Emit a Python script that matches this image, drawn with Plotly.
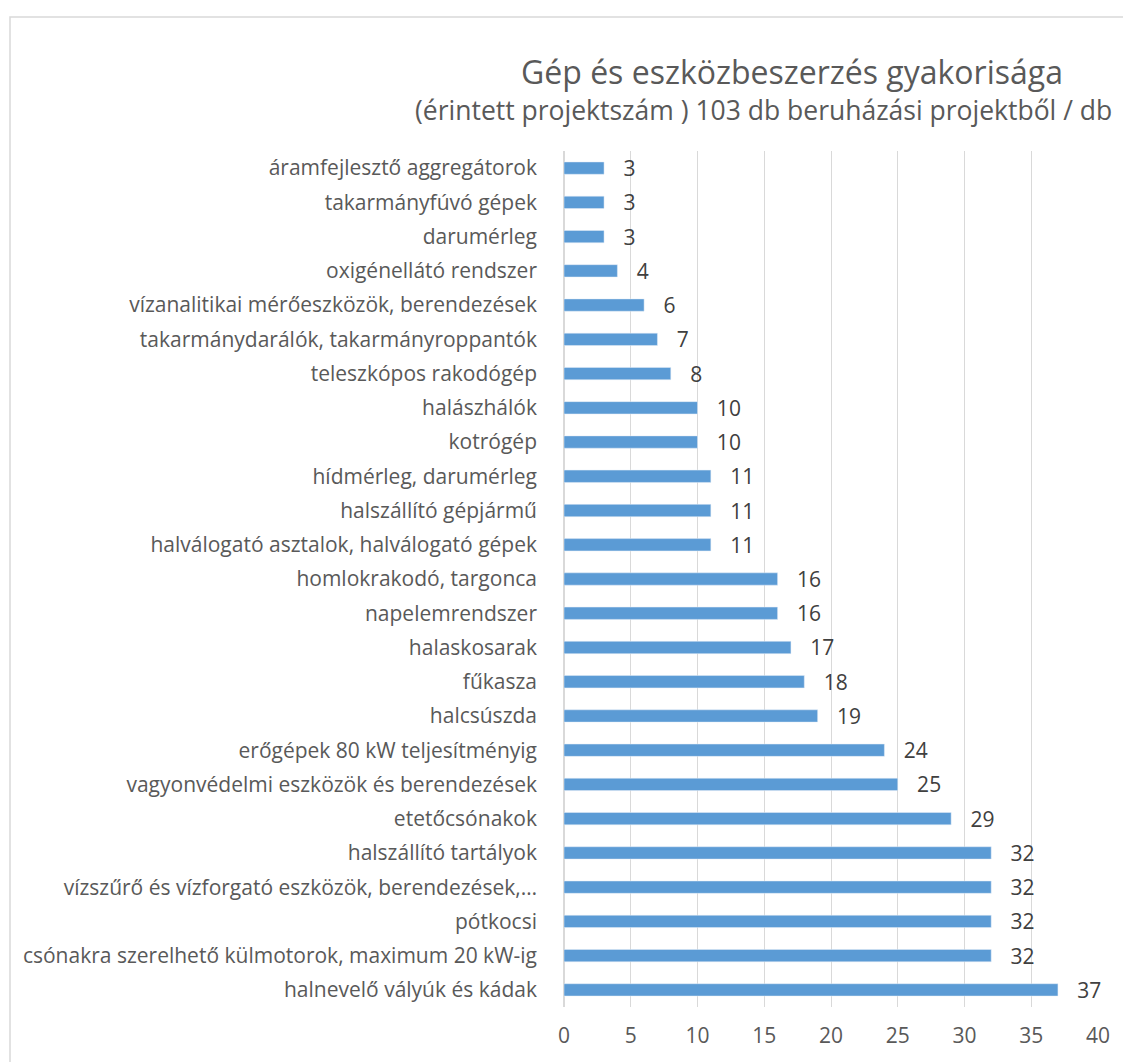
import plotly.graph_objects as go

categories = [
    "áramfejlesztő aggregátorok",
    "takarmányfúvó gépek",
    "darumérleg",
    "oxigénellátó rendszer",
    "vízanalitikai mérőeszközök, berendezések",
    "takarmánydarálók, takarmányroppantók",
    "teleszkópos rakodógép",
    "halászhálók",
    "kotrógép",
    "hídmérleg, darumérleg",
    "halszállító gépjármű",
    "halválogató asztalok, halválogató gépek",
    "homlokrakodó, targonca",
    "napelemrendszer",
    "halaskosarak",
    "fűkasza",
    "halcsúszda",
    "erőgépek 80 kW teljesítményig",
    "vagyonvédelmi eszközök és berendezések",
    "etetőcsónakok",
    "halszállító tartályok",
    "vízszűrő és vízforgató eszközök, berendezések,…",
    "pótkocsi",
    "csónakra szerelhető külmotorok, maximum 20 kW-ig",
    "halnevelő vályúk és kádak",
]
counts = [3, 3, 3, 4, 6, 7, 8, 10, 10, 11, 11, 11, 16, 16, 17, 18, 19,
          24, 25, 29, 32, 32, 32, 32, 37]

title_text = "Gép és eszközbeszerzés gyakorisága"
subtitle_text = "(érintett projektszám ) 103 db beruházási projektből / db"

# page body has an 8px margin, so positions are measured on screen then shifted
OFF = 8
W, H = 1131, 1062
L, T = 564 - OFF, 151 - OFF
R = W - (1098 - OFF)
B = H - (1007 - OFF)
pw, ph = W - L - R, H - T - B

def px(x):
    return (x - OFF - L) / pw

def py(y):
    return (H - B - (y - OFF)) / ph

FONT = "Open Sans"
GREY = "#595959"

fig = go.Figure(go.Bar(
    x=counts, y=categories, orientation="h",
    marker_color="#5B9BD5", width=0.36,
    text=counts, texttemplate="   %{x}", textposition="outside",
    constraintext="none",
    textfont=dict(size=21, color="#404040", family=FONT),
    cliponaxis=False,
))

fig.update_layout(
    width=W, height=H,
    margin=dict(l=L, r=R, t=T, b=B, autoexpand=False),
    paper_bgcolor="white", plot_bgcolor="white",
    font=dict(family=FONT, color=GREY),
    showlegend=False,
    xaxis=dict(range=[0, 40], dtick=5, showgrid=True, gridcolor="#D9D9D9",
               gridwidth=1, zeroline=True, zerolinecolor="#D9D9D9",
               automargin=False,
               tickfont=dict(size=21, color=GREY), ticklabelstandoff=14),
    yaxis=dict(categoryorder="array", categoryarray=categories,
               autorange="reversed", tickfont=dict(size=21, color=GREY),
               automargin=False,
               ticklabelstandoff=26, showline=False),
    shapes=[dict(type="rect", xref="paper", yref="paper",
                 x0=px(10), x1=px(1200), y0=py(1100), y1=py(17),
                 line=dict(color="#D9D9D9", width=1.5), layer="below")],
    annotations=[
        dict(text=title_text, xref="paper", yref="paper", x=px(792), y=py(72),
             xanchor="center", yanchor="middle", showarrow=False,
             font=dict(size=32, color=GREY, family=FONT)),
        dict(text=subtitle_text, xref="paper", yref="paper", x=px(413), y=py(110),
             xanchor="left", yanchor="middle", showarrow=False,
             font=dict(size=26.5, color=GREY, family=FONT)),
    ],
)

fig.write_html("out.html")
